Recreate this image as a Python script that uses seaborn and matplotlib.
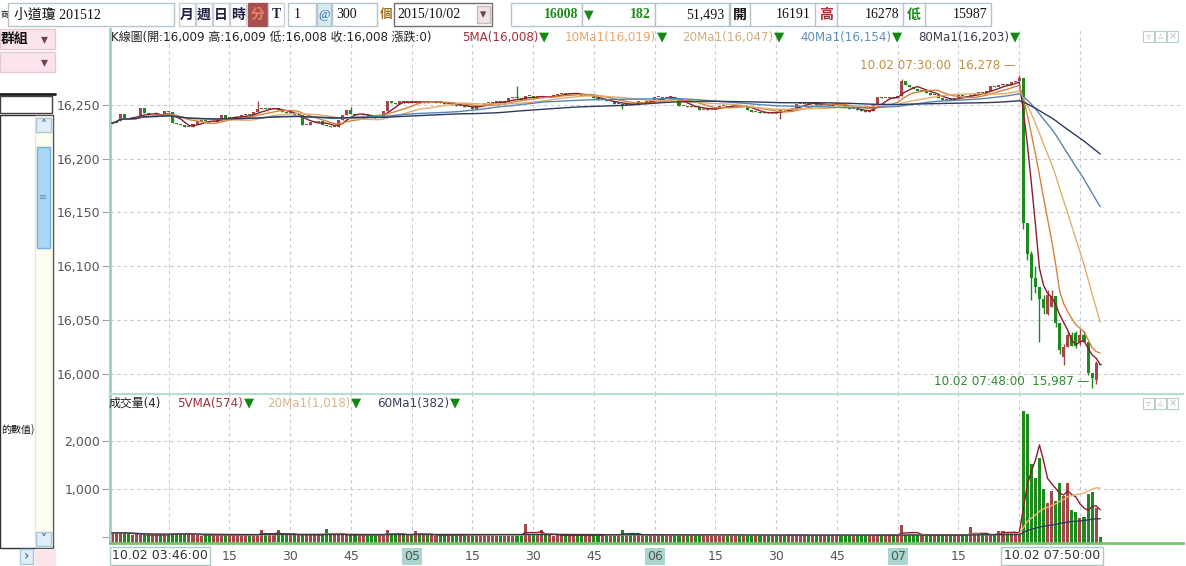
import numpy as np
import pandas as pd
import matplotlib
matplotlib.use("Agg")
import matplotlib.pyplot as plt
from matplotlib.patches import Rectangle
import seaborn as sns

W, H = 1186, 566
UP, DOWN = "#A34848", "#1E8A1E"
TRI = "#128A12"
GRID = "#C3CAD4"
FRAME = "#9CCFC3"
SERIF = ["Liberation Serif", "Noto Sans CJK TC"]

# ---------------- data (1-minute bars, 10/02 03:46 - 07:50) ----------------
START = "2015-10-02 03:46"
FIRST_OPEN = 16232
close_px = [
    16233, 16235, 16241, 16238, 16237, 16238, 16238, 16247, 16242, 16240, 16240, 16241, 16240, 16244,
    16243, 16233, 16232, 16231, 16229, 16229, 16232, 16235, 16236, 16235, 16234, 16234, 16236, 16240, 16238,
    16238, 16238, 16239, 16240, 16241, 16240, 16243, 16246, 16247, 16246, 16246, 16247, 16245, 16243, 16242,
    16242, 16240, 16240, 16231, 16231, 16234, 16234, 16235, 16231, 16230, 16229, 16229, 16236, 16240, 16245,
    16241, 16240, 16240, 16241, 16240, 16239, 16238, 16238, 16244, 16253, 16252, 16251, 16253, 16252, 16253,
    16252, 16253, 16252, 16253, 16252, 16252, 16253, 16252, 16251, 16251, 16250, 16249, 16249, 16248, 16248,
    16246, 16249, 16250, 16252, 16252, 16252, 16253, 16252, 16253, 16256, 16257, 16256, 16254, 16258, 16258,
    16257, 16257, 16258, 16257, 16257, 16259, 16260, 16261, 16260, 16260, 16261, 16260, 16258, 16258, 16258,
    16256, 16254, 16254, 16253, 16253, 16251, 16251, 16250, 16251, 16250, 16251, 16253, 16253, 16252, 16253,
    16257, 16257, 16256, 16257, 16257, 16256, 16249, 16249, 16248, 16249, 16248, 16245, 16245, 16246, 16246,
    16247, 16249, 16249, 16248, 16249, 16250, 16249, 16249, 16245, 16243, 16243, 16242, 16243, 16242, 16243,
    16242, 16246, 16245, 16246, 16246, 16251, 16251, 16252, 16251, 16251, 16250, 16250, 16250, 16249, 16250,
    16252, 16250, 16247, 16246, 16246, 16245, 16244, 16243, 16244, 16251, 16257, 16256, 16256, 16257, 16256,
    16258, 16272, 16268, 16266, 16265, 16263, 16264, 16261, 16259, 16259, 16256, 16254, 16255, 16254, 16256,
    16259, 16258, 16257, 16259, 16260, 16262, 16261, 16263, 16267, 16266, 16268, 16269, 16268, 16271, 16272,
    16275, 16140, 16111, 16089, 16081, 16070, 16061, 16073, 16072, 16047, 16022, 16025, 16036, 16026, 16026,
    16036, 16030, 16001, 15996, 16010, 16008,
]
gap_open = {231: 16056, 232: 16062, 235: 16016, 238: 16038, 239: 16030, 243: 15994, 244: 16009}
wick_high = {36: 16253, 59: 16248, 100: 16267, 195: 16274, 224: 16278, 225: 16275, 227: 16114,
             228: 16100, 230: 16073, 231: 16078, 232: 16078, 235: 16028, 236: 16039, 237: 16039,
             238: 16040, 239: 16042, 240: 16040, 243: 16012}
wick_low = {126: 16246, 165: 16237, 225: 16135, 226: 16106, 227: 16069, 228: 16075, 229: 16030,
            230: 16056, 231: 16055, 233: 16044, 234: 16019, 235: 16008, 238: 16024, 239: 16027,
            241: 15999, 242: 15987, 243: 15991}
volume = [
    90, 95, 85, 100, 70, 55, 60, 45, 50, 40, 55, 45, 50, 60,
    55, 80, 85, 75, 80, 70, 45, 40, 35, 45, 40, 35, 50, 45, 40,
    35, 40, 45, 50, 40, 55, 60, 50, 150, 60, 55, 50, 150, 60, 55,
    45, 50, 60, 55, 45, 50, 55, 45, 50, 170, 60, 55, 50, 45, 55,
    50, 45, 40, 50, 45, 55, 50, 45, 55, 150, 60, 55, 50, 45, 60,
    55, 130, 55, 50, 45, 40, 35, 40, 45, 35, 40, 45, 40, 35, 40,
    45, 40, 35, 40, 45, 40, 45, 50, 40, 45, 50, 55, 45, 275, 60,
    50, 55, 150, 45, 40, 35, 40, 45, 35, 40, 45, 40, 35, 40, 45,
    40, 35, 40, 45, 40, 50, 55, 147, 70, 60, 55, 45, 40, 35, 40,
    45, 40, 35, 40, 45, 40, 35, 40, 45, 40, 35, 40, 45, 50, 40,
    35, 40, 45, 63, 40, 35, 40, 45, 40, 35, 40, 45, 40, 35, 40,
    45, 40, 45, 77, 50, 45, 40, 35, 40, 45, 40, 35, 40, 45, 50,
    45, 40, 35, 40, 45, 40, 45, 40, 35, 45, 77, 50, 45, 40, 45,
    50, 250, 70, 60, 55, 45, 40, 45, 40, 35, 40, 45, 40, 45, 40,
    45, 40, 45, 210, 60, 50, 45, 40, 77, 77, 126, 126, 90, 90, 90,
    60, 2608, 2559, 1510, 1231, 1650, 1007, 706, 951, 755, 1126, 846, 1126, 566, 517,
    405, 412, 902, 937, 601, 4,
]

ma_windows = [5, 10, 20, 40, 80]
ma_labels = ["5MA(16,008)", "10Ma1(16,019)", "20Ma1(16,047)", "40Ma1(16,154)", "80Ma1(16,203)"]
ma_colors = ["#8A1D2C", "#D2843C", "#E3AD6C", "#5685B5", "#2D3A5C"]
ma_label_colors = ["#A3303A", "#EBA46A", "#CDAE84", "#5D8FBA", "#3C3C48"]
vma_windows = [5, 20, 60]
vma_labels = ["5VMA(574)", "20Ma1(1,018)", "60Ma1(382)"]
vma_colors = ["#8A1D2C", "#E8B070", "#2D3A5C"]
vma_label_colors = ["#A3303A", "#D9B48A", "#34405E"]

quote_header = "K線圖(開:16,009 高:16,009 低:16,008 收:16,008 漲跌:0)"
vol_header = "成交量(4)"
price_ticks = [16000, 16050, 16100, 16150, 16200, 16250]
vol_ticks = [0, 1000, 2000]
grid_times = ["04:00", "04:15", "04:30", "04:45", "05:00", "05:15", "05:30", "05:45",
              "06:00", "06:15", "06:30", "06:45", "07:00", "07:15", "07:30", "07:45"]
grid_text = ["", "15", "30", "45", "05", "15", "30", "45", "06", "15", "30", "45", "07", "15", "", ""]

symbol = "小道瓊 201512"
period_buttons = ["月", "週", "日", "時", "分", "T"]
bar_unit, bar_count, date_str = "1", "300", "2015/10/02"
last_px, change, total_vol = "16008", "182", "51,493"
day_open, day_high, day_low = "16191", "16278", "15987"

# ---------------- derived ----------------
n = len(close_px)
idx = np.arange(n)
times = pd.date_range(START, periods=n, freq="min")
close = np.array(close_px, float)
opens = np.r_[FIRST_OPEN, close[:-1]]
for k, v in gap_open.items():
    opens[k] = v
highs = np.maximum(opens, close)
lows = np.minimum(opens, close)
for k, v in wick_high.items():
    highs[k] = max(highs[k], v)
for k, v in wick_low.items():
    lows[k] = min(lows[k], v)
cols = np.where(close >= opens, UP, DOWN)
vol = np.array(volume, float)

# layout: bar i sits at pixel 112 + 4.05 * i
BAR0_PX, BAR_PX = 112, 4.05
XLIM = ((110 - BAR0_PX) / BAR_PX, (1183 - BAR0_PX) / BAR_PX)
PRICE_LIM = (15981.4, 16320.3)
VOL_LIM = (-118, 2967)

sns.set_style("white")
plt.rcParams["font.family"] = ["DejaVu Sans", "Noto Sans CJK TC"]

fig = plt.figure(figsize=(W / 100, H / 100), dpi=100)
fig.patch.set_facecolor("white")


def frac(x0, y0, x1, y1):
    return [x0 / W, 1 - y1 / H, (x1 - x0) / W, (y1 - y0) / H]


ax_p = fig.add_axes(frac(110, 29, 1183, 394))
ax_v = fig.add_axes(frac(110, 394, 1183, 543))
ax_o = fig.add_axes([0, 0, 1, 1], facecolor="none")
ax_o.set_xlim(0, W)
ax_o.set_ylim(H, 0)
ax_o.axis("off")

grid_pos = [times.get_loc(pd.Timestamp(f"2015-10-02 {t}")) for t in grid_times]
dash = (0, (3, 3))

# ---- price panel ----
for p in price_ticks:
    ax_p.axhline(p, color=GRID, lw=0.8, ls=dash, zorder=0)
for g in grid_pos:
    ax_p.axvline(g, color=GRID, lw=0.8, ls=dash, zorder=0)
    ax_v.axvline(g, color=GRID, lw=0.8, ls=dash, zorder=0)

ax_p.vlines(idx, lows, highs, colors=cols, lw=1, zorder=2)
ax_p.bar(idx, np.maximum(np.abs(close - opens), 0.8), bottom=np.minimum(opens, close),
         width=0.75, color=cols, lw=0, zorder=2)
for w, c in zip(ma_windows, ma_colors):
    ma = pd.Series(close).rolling(w, min_periods=1).mean().values
    sns.lineplot(x=idx, y=ma, ax=ax_p, color=c, lw=1, legend=False, zorder=3)

i_pk = int(np.argmax(highs))
i_lo = int(np.argmin(lows))
ax_p.annotate(f"{times[i_pk]:%m.%d %H:%M:%S}  {int(highs[i_pk]):,} —", xy=(i_pk, highs[i_pk]),
              xytext=(-3, 3), textcoords="offset pixels", ha="right", va="bottom",
              color="#C0903E", fontsize=8.6, annotation_clip=False)
ax_p.annotate(f"{times[i_lo]:%m.%d %H:%M:%S}  {int(lows[i_lo]):,} —", xy=(i_lo, lows[i_lo]),
              xytext=(-3, 0), textcoords="offset pixels", ha="right", va="bottom",
              color="#2E8B2E", fontsize=8.6, annotation_clip=False)

ax_p.set_xlim(*XLIM)
ax_p.set_ylim(*PRICE_LIM)
ax_p.set_yticks(price_ticks, [f"{p:,}" for p in price_ticks])
ax_p.tick_params(axis="x", bottom=False, labelbottom=False)
ax_p.tick_params(axis="y", left=True, direction="out", length=6, width=0.8, color="#A0A0A0",
                 labelsize=9, labelcolor="#555555", pad=1)
ax_p.set_xlabel("")
ax_p.set_ylabel("")
for s in ["top", "right", "bottom"]:
    ax_p.spines[s].set_visible(False)
ax_p.spines["left"].set_color(FRAME)
ax_p.spines["left"].set_linewidth(2)

# ---- volume panel ----
for v in vol_ticks[1:]:
    ax_v.axhline(v, color=GRID, lw=0.8, ls=dash, zorder=0)
ax_v.bar(idx, vol - VOL_LIM[0], bottom=VOL_LIM[0], width=0.75, color=cols, lw=0, zorder=2)
for w, c in zip(vma_windows, vma_colors):
    vma = pd.Series(vol).rolling(w, min_periods=1).mean().values
    sns.lineplot(x=idx, y=vma, ax=ax_v, color=c, lw=1, legend=False, zorder=3)

ax_v.set_xlim(*XLIM)
ax_v.set_ylim(*VOL_LIM)
ax_v.set_yticks(vol_ticks, ["" if v == 0 else f"{v:,}" for v in vol_ticks])
ax_v.tick_params(axis="y", left=True, direction="out", length=6, width=0.8, color="#A0A0A0",
                 labelsize=9, labelcolor="#555555", pad=1)
ax_v.set_xticks(grid_pos, grid_text)
ax_v.tick_params(axis="x", bottom=False, length=0, pad=5, labelsize=9, labelcolor="#555555")
for lbl, t in zip(ax_v.get_xticklabels(), grid_times):
    if t.endswith(":00") and lbl.get_text():
        lbl.set_bbox(dict(boxstyle="square,pad=0.15", fc="#A9D6CF", ec="none"))
ax_v.set_xlabel("")
ax_v.set_ylabel("")
ax_v.spines["right"].set_visible(False)
ax_v.spines["left"].set_color(FRAME)
ax_v.spines["left"].set_linewidth(2)
ax_v.spines["top"].set_color("#B6DCD3")
ax_v.spines["top"].set_linewidth(1.5)
ax_v.spines["bottom"].set_color("#74C474")
ax_v.spines["bottom"].set_linewidth(2)

end_box = dict(boxstyle="square,pad=0.2", fc="white", ec="#A8CCC4", lw=1)
ax_v.text(0, -0.085, f"{times[0]:%m.%d %H:%M:%S}", transform=ax_v.get_xaxis_transform(),
          ha="left", va="center", fontsize=9, color="#333333", bbox=end_box, clip_on=False)
ax_v.text(n - 1, -0.085, f"{times[-1]:%m.%d %H:%M:%S}", transform=ax_v.get_xaxis_transform(),
          ha="right", va="center", fontsize=9, color="#333333", bbox=end_box, clip_on=False)

# ---- overlay: headers, legends, toolbar ----
renderer = fig.canvas.get_renderer()


def otext(x, y, s, **kw):
    kw.setdefault("va", "center")
    return ax_o.text(x, y, s, **kw)


def legend_item(x, y, s, color):
    t = otext(x, y, s, color=color, fontsize=8.6)
    x1 = t.get_window_extent(renderer).x1
    otext(x1 + 1, y, "▼", color=TRI, fontsize=9.5)


otext(111, 37, quote_header, color="#222222", fontsize=8.6)
for lab, c, x in zip(ma_labels, ma_label_colors, [462, 565, 682, 800, 918]):
    legend_item(x, 37, lab, c)
otext(109, 403, vol_header, color="#222222", fontsize=8.6)
for lab, c, x in zip(vma_labels, vma_label_colors, [177, 267, 377]):
    legend_item(x, 403, lab, c)

for y0 in (31, 398):
    for x0, sym in zip((1143, 1155, 1167), ("▿", "▵", "×")):
        ax_o.add_patch(Rectangle((x0, y0), 11, 11, fc="white", ec="#B8D0C8", lw=0.8))
        otext(x0 + 5.5, y0 + 5.5, sym, ha="center", color="#B0C4BC", fontsize=7)


def box(x0, y0, x1, y1, fc="white", ec="#B5C3CC", lw=1):
    ax_o.add_patch(Rectangle((x0, y0), x1 - x0, y1 - y0, facecolor=fc, edgecolor=ec, lw=lw))


def ui(x, y, s, ha="left", size=10, color="#111111", weight="normal", family=None):
    otext(x, y, s, ha=ha, fontsize=size, color=color, fontweight=weight,
          family=family if family else SERIF)


ty = 15
ui(0.5, ty, "商", size=5.5, family=["Noto Sans CJK TC"])
box(8, 3, 174, 26)
ui(14, ty, symbol)
for k, (ch, x0) in enumerate(zip(period_buttons, [179, 196, 213, 230, 248, 268])):
    sel = ch == "分"
    box(x0, 3, x0 + (19 if sel else 16), 26, fc="#A85050" if sel else "white",
        ec="#A85050" if sel else "#C8D0D8")
    ui(x0 + (9.5 if sel else 8), ty, ch, ha="center", color="#E88262" if sel else "#222244",
       weight="bold")
box(288, 3, 316, 26)
ui(294, ty, bar_unit)
box(317, 3, 331, 26, fc="#D6ECF4")
ui(324, ty, "@", ha="center", color="#2A64A0", size=9)
box(332, 3, 377, 26)
ui(336, ty, bar_count)
ui(386, ty, "個", ha="center", color="#A07020", weight="bold", size=9)
box(394, 3, 492, 26, ec="#707070")
ui(397, ty, date_str)
box(477, 6, 490, 23, fc="#F2E4E4", ec="#C8B8B8")
ui(483.5, ty, "▾", ha="center", color="#604040", size=9, family=["DejaVu Sans"])
box(511, 3, 582, 26)
ui(578, ty, last_px, ha="right", color=DOWN, weight="bold")
box(582, 3, 655, 26)
ui(589, ty, "▼", ha="center", color=DOWN, size=9, family=["DejaVu Sans"])
ui(651, ty, change, ha="right", color=DOWN, weight="bold")
box(655, 3, 729, 26)
ui(724, ty, total_vol, ha="right")
box(730, 3, 991, 26)
for xs in (750, 815, 837, 903, 925):
    ax_o.plot([xs, xs], [3, 26], color="#B5C3CC", lw=1)
ui(740, ty, "開", ha="center", weight="bold")
ui(811, ty, day_open, ha="right")
ui(826, ty, "高", ha="center", color="#A03030", weight="bold")
ui(899, ty, day_high, ha="right")
ui(914, ty, "低", ha="center", color=DOWN, weight="bold")
ui(987, ty, day_low, ha="right")

# left side panel
box(0, 29, 55, 49, fc="#FBE4EA", ec="#E8C8D0")
ui(1, 39, "群組", weight="bold", family=["Noto Sans CJK TC"], size=10)
ui(44, 39, "▾", ha="center", color="#704050", size=10, family=["DejaVu Sans"])
box(0, 52, 55, 72, fc="#FBE4EA", ec="#E8C8D0")
ui(44, 62, "▾", ha="center", color="#704050", size=10, family=["DejaVu Sans"])
ax_o.plot([0, 55], [94, 94], color="#202020", lw=2)
box(0, 96, 52, 113, ec="#404040")
box(0, 115, 53, 548, ec="#303030")
box(35, 116, 52, 546, fc="#FDFDF0", ec="#E8E8D8")
box(36, 118, 51, 132, fc="#E0EEF8", ec="#A8C8E0")
ui(43.5, 125, "˄", ha="center", color="#2A5A90", size=9, family=["DejaVu Sans"])
box(37, 147, 50, 248, fc="#A8D8F4", ec="#78B0D8")
ui(43.5, 197, "≡", ha="center", color="#5890C0", size=7, family=["DejaVu Sans"])
box(36, 532, 51, 546, fc="#E0EEF8", ec="#A8C8E0")
ui(43.5, 539, "˅", ha="center", color="#2A5A90", size=9, family=["DejaVu Sans"])
box(20, 549, 33, 564, fc="#E0EEF8", ec="#A8C8E0")
ui(26.5, 556, "›", ha="center", color="#2A5A90", size=10, family=["DejaVu Sans"])
box(35, 549, 55, 566, fc="#FBE4EA", ec="#FBE4EA")
ui(1, 430, "的數值)", family=["Noto Sans CJK TC"], size=7.2)

fig.savefig("out.png", dpi=100)
